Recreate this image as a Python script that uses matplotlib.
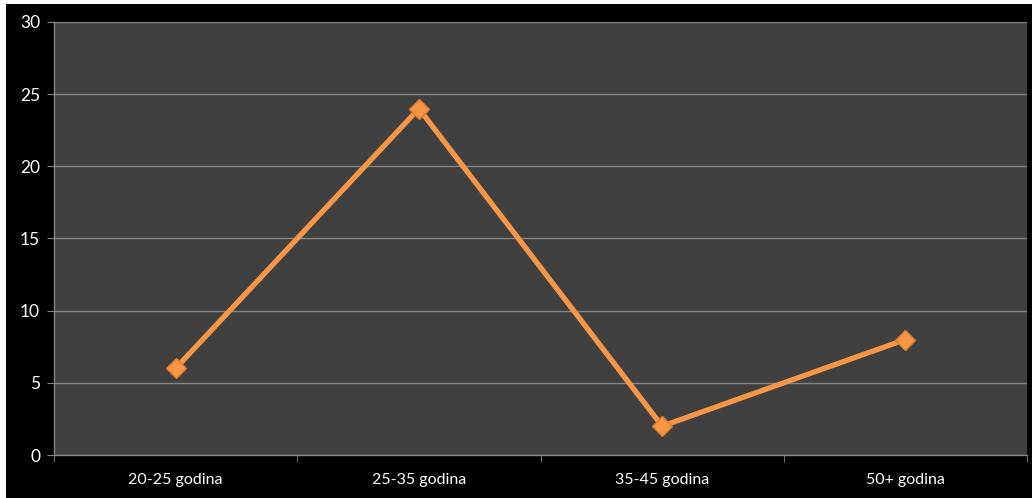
import matplotlib
matplotlib.use("Agg")
import matplotlib.pyplot as plt
from matplotlib.patches import Rectangle

categories = ["20-25 godina", "25-35 godina", "35-45 godina", "50+ godina"]
values = [6, 24, 2, 8]
y_ticks = [0, 5, 10, 15, 20, 25, 30]

plt.rcParams["font.family"] = ["Lato", "DejaVu Sans"]

W, H = 1032, 498
fig = plt.figure(figsize=(W / 100, H / 100), dpi=100, facecolor="white")
# black chart panel with a thin white margin on the left and top
fig.patches.append(Rectangle((6 / W, 0), 1 - 6 / W, 1 - 4 / H,
                             transform=fig.transFigure, facecolor="black",
                             edgecolor="none", zorder=-10))

ax = fig.add_axes([54 / W, 1 - 455 / H, (1027 - 54) / W, (455 - 22) / H])
ax.set_zorder(1)
ax.set_facecolor("#404040")

x = list(range(len(categories)))
ax.plot(x, values, color="#F79646", linewidth=3.8, marker="D", markersize=10.5,
        markerfacecolor="#F79646", markeredgecolor="#E07B2A",
        markeredgewidth=1, zorder=3, solid_joinstyle="miter")

ax.set_xlim(-0.5, len(categories) - 0.5)
ax.set_ylim(0, 30)
ax.set_yticks(y_ticks)
ax.yaxis.grid(True, color="#858585", linewidth=1)
ax.set_axisbelow(True)

ax.set_xticks(x)
ax.set_xticklabels(categories)
ax.set_xticks([i + 0.5 for i in range(-1, len(categories))], minor=True)
ax.tick_params(axis="x", which="major", length=0, pad=13, labelcolor="white", labelsize=11.5)
ax.tick_params(axis="x", which="minor", length=5, color="#858585", direction="out")
ax.tick_params(axis="y", length=5, color="#858585", labelcolor="white", labelsize=12.5, pad=5)

for s in ["top", "right"]:
    ax.spines[s].set_visible(False)
for s in ["left", "bottom"]:
    ax.spines[s].set_color("#858585")
    ax.spines[s].set_linewidth(1)

fig.savefig("out.png", dpi=100, facecolor=fig.get_facecolor())
